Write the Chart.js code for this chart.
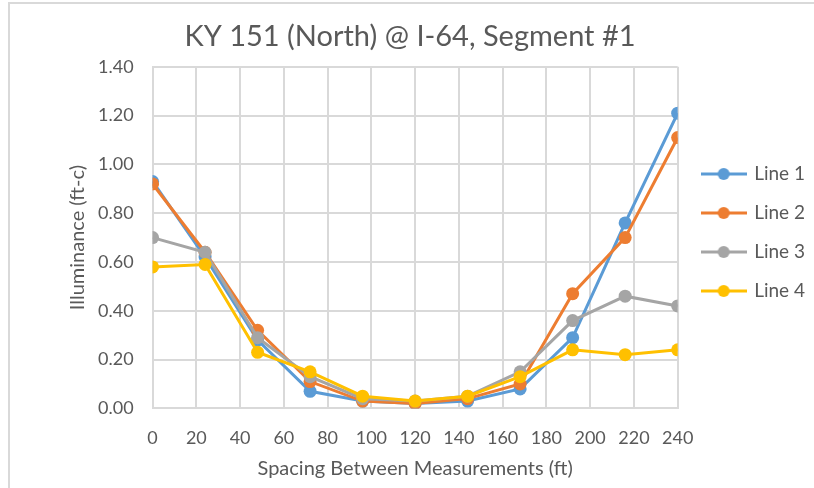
<!DOCTYPE html>
<html>
<head>
<meta charset="utf-8">
<script src="https://cdn.jsdelivr.net/npm/chart.js@4"></script>
<style>
  html, body { margin: 0; padding: 0; background: #fff; overflow: hidden; }
  .frame {
    position: absolute; left: 8px; top: 2px; width: 820px; height: 500px;
    border-top: 2px solid #d9d9d9; border-left: 2px solid #d9d9d9;
  }
  #chart { position: absolute; left: 0; top: 0; }
</style>
</head>
<body>
<div class="frame"></div>
<canvas id="chart" width="814" height="488"></canvas>
<script>
const spacing = [0, 24, 48, 72, 96, 120, 144, 168, 192, 216, 240]
const line1 = [0.93, 0.62, 0.28, 0.07, 0.03, 0.02, 0.03, 0.08, 0.29, 0.76, 1.21]
const line2 = [0.92, 0.64, 0.32, 0.11, 0.03, 0.02, 0.04, 0.10, 0.47, 0.70, 1.11]
const line3 = [0.70, 0.64, 0.29, 0.13, 0.04, 0.03, 0.05, 0.15, 0.36, 0.46, 0.42]
const line4 = [0.58, 0.59, 0.23, 0.15, 0.05, 0.03, 0.05, 0.13, 0.24, 0.22, 0.24]
const seriesNames = ["Line 1", "Line 2", "Line 3", "Line 4"]
const seriesColors = ["#5B9BD5", "#ED7D31", "#A5A5A5", "#FFC000"]

const textColor = "#595959"
const gridColor = "#d9d9d9"
const font = "Lato, 'Open Sans', sans-serif"

// legend marker: short line with a dot in the middle
function legendMarker(color) {
  const c = document.createElement("canvas")
  c.width = 46
  c.height = 14
  const g = c.getContext("2d")
  g.strokeStyle = color
  g.lineWidth = 3
  g.beginPath()
  g.moveTo(0, 7)
  g.lineTo(46, 7)
  g.stroke()
  g.fillStyle = color
  g.beginPath()
  g.arc(23, 7, 6, 0, Math.PI * 2)
  g.fill()
  return c
}

// move the legend a bit right and up from where the layout puts it
const legendNudge = {
  id: "legendNudge",
  afterLayout(chart) {
    const lg = chart.legend
    lg.left += 5; lg.right += 5
    lg.top -= 11; lg.bottom -= 11
  }
}

const datasets = [line1, line2, line3, line4].map((values, i) => ({
  label: seriesNames[i],
  data: values.map((v, j) => ({ x: spacing[j], y: v })),
  borderColor: seriesColors[i],
  backgroundColor: seriesColors[i],
  pointBackgroundColor: seriesColors[i],
  pointBorderWidth: 0,
  pointRadius: 6.5,
  borderWidth: 3,
  tension: 0,
  order: 4 - i
}))

new Chart(document.getElementById("chart"), {
  type: "line",
  data: { datasets },
  plugins: [legendNudge],
  options: {
    responsive: false,
    animation: false,
    layout: { padding: { left: 10, right: 4, top: 6, bottom: 7 } },
    plugins: {
      title: {
        display: true,
        text: "KY 151 (North) @ I-64, Segment #1",
        color: textColor,
        font: { family: font, size: 29, weight: "normal" },
        padding: { top: 13, bottom: 13 }
      },
      legend: {
        position: "right",
        labels: {
          usePointStyle: true,
          pointStyleWidth: 42,
          color: textColor,
          font: { family: font, size: 19 },
          padding: 20,
          generateLabels: chart => chart.data.datasets.map((ds, i) => ({
            text: ds.label,
            pointStyle: legendMarker(ds.borderColor),
            fillStyle: ds.borderColor,
            strokeStyle: ds.borderColor,
            lineWidth: 0,
            fontColor: textColor,
            datasetIndex: i
          }))
        }
      },
      tooltip: { enabled: false }
    },
    scales: {
      x: {
        type: "linear",
        min: 0,
        max: 240,
        ticks: { stepSize: 20, color: textColor, font: { family: font, size: 18 }, padding: 19 },
        grid: { color: gridColor, lineWidth: 2, drawTicks: false },
        border: { color: gridColor, width: 2 },
        title: {
          display: true,
          text: "Spacing Between Measurements (ft)",
          color: textColor,
          font: { family: font, size: 20 },
          padding: { top: -11, bottom: 0 }
        }
      },
      y: {
        min: 0,
        max: 1.4,
        ticks: {
          stepSize: 0.2,
          color: textColor,
          font: { family: font, size: 18 },
          padding: 19,
          callback: v => v.toFixed(2)
        },
        grid: { color: gridColor, lineWidth: 2, drawTicks: false },
        border: { color: gridColor, width: 2 },
        title: {
          display: true,
          text: "Illuminance (ft-c)",
          color: textColor,
          font: { family: font, size: 20 },
          padding: { top: 56, bottom: -11 }
        }
      }
    }
  }
})
</script>
</body>
</html>
